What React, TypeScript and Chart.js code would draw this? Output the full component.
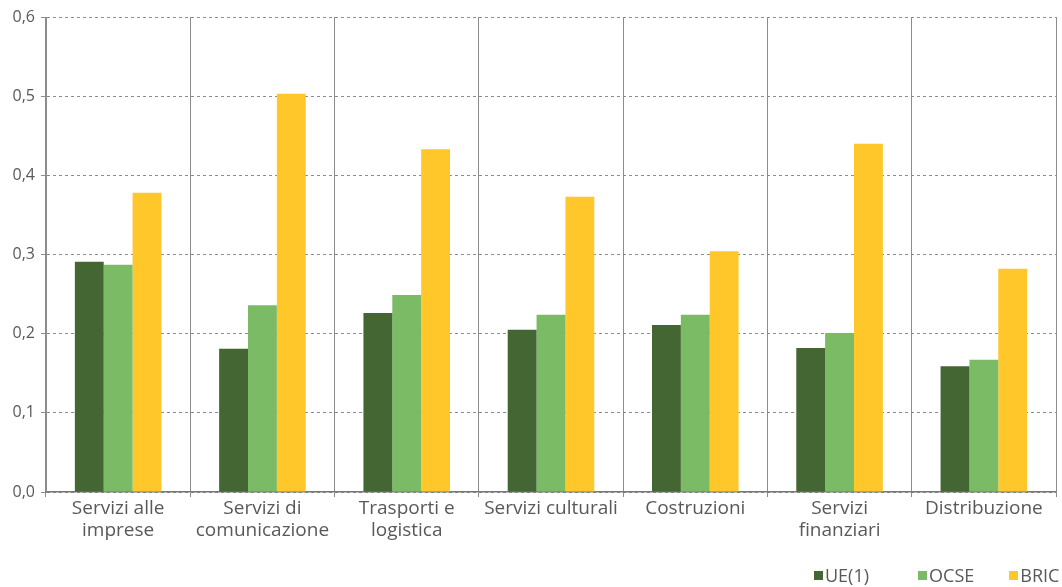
import React, { useEffect, useRef } from "react";
import { Chart, registerables } from "chart.js";

Chart.register(...registerables);

const categories: (string | string[])[] = [
  ["Servizi alle", "imprese"],
  ["Servizi di", "comunicazione"],
  ["Trasporti e", "logistica"],
  "Servizi culturali",
  "Costruzioni",
  ["Servizi", "finanziari"],
  "Distribuzione",
];
const ueValues = [0.291, 0.181, 0.226, 0.205, 0.211, 0.182, 0.159];
const ocseValues = [0.287, 0.236, 0.249, 0.224, 0.224, 0.201, 0.167];
const bricValues = [0.378, 0.503, 0.433, 0.373, 0.304, 0.44, 0.282];
const seriesNames = ["UE(1)", "OCSE", "BRIC"];
const seriesColors = ["#446633", "#7bbb66", "#ffc729"];

const FONT = "'Open Sans', 'Noto Sans', sans-serif";
const TEXT = "#595959";

export default function App() {
  const ref = useRef<HTMLCanvasElement | null>(null);
  useEffect(() => {
    if (!ref.current) return;
    const chart = new Chart(ref.current, {
      type: "bar",
      data: {
        labels: categories,
        datasets: [ueValues, ocseValues, bricValues].map((d, i) => ({
          label: seriesNames[i],
          data: d,
          backgroundColor: seriesColors[i],
          borderWidth: 0,
          categoryPercentage: 0.6,
          barPercentage: 1.0,
        })),
      },
      options: {
        responsive: false,
        animation: false,
        maintainAspectRatio: false,
        layout: { padding: { top: 17, right: 6, left: 0, bottom: 0 } },
        plugins: {
          legend: { display: false },
          tooltip: { enabled: false },
        },
        scales: {
          x: {
            offset: true,
            grid: {
              offset: true,
              color: "#8c8c8c",
              lineWidth: 1,
              drawTicks: true,
              tickLength: 5,
            },
            border: { color: "#777777", width: 1.5 },
            ticks: {
              color: TEXT,
              font: { family: FONT, size: 19, lineHeight: 1.15 },
              maxRotation: 0,
              autoSkip: false,
              padding: 1,
            },
            afterFit: (s: any) => {
              s.height = 95;
            },
          },
          y: {
            min: 0,
            max: 0.6,
            grid: {
              color: "#8c8c8c",
              lineWidth: 1,
              tickLength: 5,
            },
            border: { color: "#8c8c8c", width: 1, dash: [3, 3] },
            ticks: {
              stepSize: 0.1,
              color: TEXT,
              font: { family: FONT, size: 16 },
              padding: 6,
              callback: (v: any) => Number(v).toFixed(1).replace(".", ","),
            },
            afterFit: (s: any) => {
              s.width = 46;
            },
          },
        },
      },
    });
    return () => chart.destroy();
  }, []);

  const legendItem = (i: number, ml: number) => (
    <div
      key={i}
      style={{ display: "flex", alignItems: "center", marginLeft: ml }}
    >
      <span
        style={{
          width: 9,
          height: 9,
          background: seriesColors[i],
          display: "inline-block",
          marginRight: 2,
        }}
      />
      <span style={{ fontFamily: FONT, fontSize: 18, color: TEXT }}>
        {seriesNames[i]}
      </span>
    </div>
  );

  return (
    <div
      style={{
        position: "absolute",
        left: 0,
        top: 0,
        width: 1062,
        height: 587,
        background: "#fff",
      }}
    >
      <canvas ref={ref} width={1062} height={587} />
      <div
        style={{
          position: "absolute",
          left: 814,
          top: 563,
          display: "flex",
          alignItems: "center",
        }}
      >
        {legendItem(0, 0)}
        {legendItem(1, 49)}
        {legendItem(2, 35)}
      </div>
    </div>
  );
}
